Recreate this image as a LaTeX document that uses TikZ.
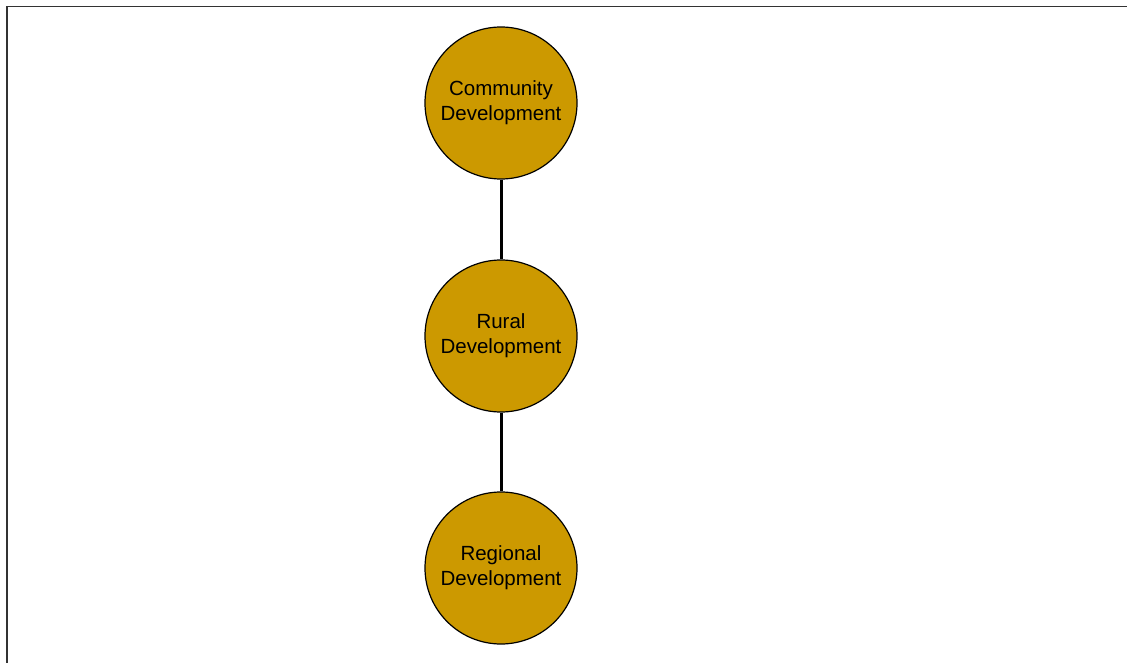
\documentclass[tikz,border=0pt]{standalone}
\usepackage{fontspec}
\setmainfont{Liberation Sans}
\usetikzlibrary{positioning}

\definecolor{gold}{HTML}{CC9900}

\begin{document}
\begin{tikzpicture}[x=1pt, y=-1pt,
		stage/.style={circle, draw=black, line width=1.2pt, fill=gold,
			minimum size=152pt, inner sep=0pt, align=center,
			font=\fontsize{20.5}{25}\selectfont},
		link/.style={line width=3pt}
		]
		\useasboundingbox (0,0) rectangle (1127,663);
		% frame, only top and left edges show
		\draw [line width=1.5pt, black!80] (7,663) -- (7,6.5) -- (1127,6.5);
		\node [stage] (community) at (501,103) {Community\\Development};
		\node [stage] (rural) at (501,336) {Rural\\Development};
		\node [stage] (regional) at (501,568) {Regional\\Development};
		\draw [link] (community) -- (rural);
		\draw [link] (rural) -- (regional);
	\end{tikzpicture}
\end{document}
